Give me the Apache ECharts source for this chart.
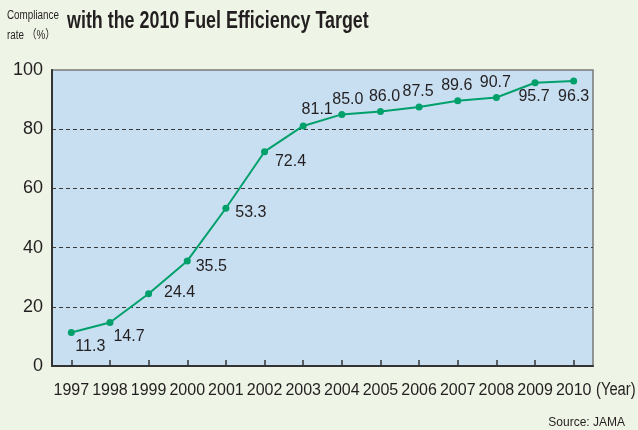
<!DOCTYPE html>
<html>
<head>
<meta charset="utf-8">
<script src="https://cdn.jsdelivr.net/npm/echarts@6/dist/echarts.min.js"></script>
<style>
  html, body {margin: 0; padding: 0; background: #eef5e6;}
  #chart {width: 638px; height: 430px;}
</style>
</head>
<body>
<div id="chart"></div>
<script>
// data
const years = ['1997', '1998', '1999', '2000', '2001', '2002', '2003',
    '2004', '2005', '2006', '2007', '2008', '2009', '2010']
const complianceRate = [11.3, 14.7, 24.4, 35.5, 53.3, 72.4, 81.1,
    85.0, 86.0, 87.5, 89.6, 90.7, 95.7, 96.3]
const yTicks = [0, 20, 40, 60, 80, 100]

// where each value label sits relative to its dot
const labelOffsets = [[19, 14], [19, 14], [31, -1], [24, 6], [25, 4], [26, 10], [14, -16],
    [6, -15], [4, -15], [-1, -15], [-1, -15], [-1, -15], [-1, 14], [0, 16]]

const textColor = '#231f20'
const lineColor = '#00a06b'
const sans = '"Liberation Sans", Arial, Helvetica, sans-serif'

const chart = echarts.init(document.getElementById('chart'))

const points = complianceRate.map((v, i) => ({
    value: v,
    label: {offset: labelOffsets[i]}
}))

// condensed looking text: normal font squeezed sideways
function squeezed(text, x, y, font, align, squeeze) {
    return {
        type: 'text', x: x, y: y, scaleX: squeeze,
        style: {text: text, fill: textColor, font: font, align: align, verticalAlign: 'middle'}
    }
}

chart.setOption({
    backgroundColor: '#eef5e6',
    animation: false,
    textStyle: {fontFamily: sans, color: textColor},
    grid: {
        left: 52, right: 45, top: 70, bottom: 64,
        show: true,
        backgroundColor: '#c8dff2',
        borderColor: '#7a7a7a',
        borderWidth: 1.5
    },
    xAxis: {
        type: 'category',
        data: years,
        boundaryGap: true,
        axisLine: {lineStyle: {color: '#333', width: 2}},
        axisTick: {show: true, inside: true, alignWithLabel: true, length: 6,
            lineStyle: {color: '#333', width: 1.5}},
        axisLabel: {interval: 0, fontFamily: sans, fontSize: 16, color: textColor, margin: 17}
    },
    yAxis: {
        type: 'value',
        min: yTicks[0],
        max: yTicks[yTicks.length - 1],
        interval: 20,
        axisLine: {show: true, lineStyle: {color: '#333', width: 2}},
        axisTick: {show: false},
        axisLabel: {fontFamily: sans, fontSize: 18, color: textColor, margin: 9},
        splitLine: {
            show: true,
            showMinLine: false,
            showMaxLine: false,
            lineStyle: {color: '#3a3a3a', type: [4, 3], width: 1}
        }
    },
    series: [{
        type: 'line',
        data: points,
        symbol: 'circle',
        symbolSize: 7,
        lineStyle: {color: lineColor, width: 2},
        itemStyle: {color: lineColor},
        label: {
            show: true,
            position: 'inside',
            fontFamily: sans,
            fontSize: 16,
            color: textColor,
            formatter: p => p.value.toFixed(1)
        }
    }],
    graphic: [
        squeezed('with the 2010 Fuel Efficiency Target', 67, 21, 'bold 24px ' + sans, 'left', 0.745),
        squeezed('Compliance', 7, 16, '12px ' + sans, 'left', 0.82),
        squeezed('rate （%）', 7, 36, '12px "Liberation Sans", "Noto Sans CJK JP", sans-serif', 'left', 0.82),
        squeezed('(Year)', 596, 390, '18px ' + sans, 'left', 0.82),
        squeezed('Source: JAMA', 625, 423, '12px ' + sans, 'right', 1)
    ]
})
</script>
</body>
</html>
